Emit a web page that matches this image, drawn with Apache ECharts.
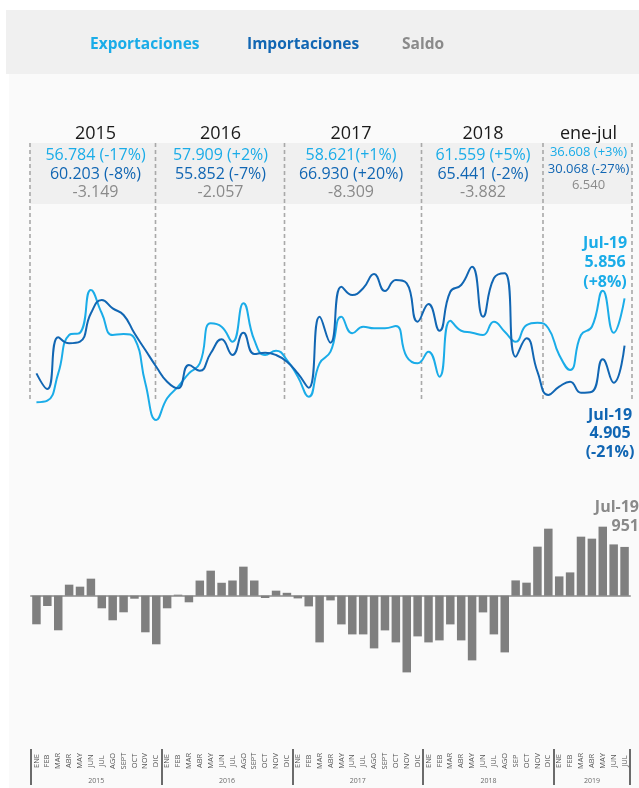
<!DOCTYPE html>
<html><head><meta charset="utf-8">
<script src="https://cdn.jsdelivr.net/npm/echarts@6/dist/echarts.min.js"></script>
<style>html,body{margin:0;padding:0;background:#fff}#c{width:639px;height:788px}</style>
</head><body><div id="c"></div>
<script>
// ---- data ----
const years = ['2015', '2016', '2017', '2018', '2019'];
const yearMonthCounts = [12, 12, 12, 12, 7];
const monthLabels = [
  'ENE','FEB','MAR','ABR','MAY','JUN','JUL','AGO','SEPT','OCT','NOV','DIC',
  'ENE','FEB','MAR','ABR','MAY','JUN','JUL','AGO','SEPT','OCT','NOV','DIC',
  'ENE','FEB','MAR','ABR','MAY','JUN','JUL','AGO','SEPT','OCT','NOV','DIC',
  'ENE','FEB','MAR','ABR','MAY','JUN','JUL','AGO','SEP','OCT','NOV','DIC',
  'ENE','FEB','MAR','ABR','MAY','JUN','JUL'
];
const exportsVals = [
  3770,3802,4351,5120,5166,6022,5555,5120,5140,5054,4151,3415,
  3850,4083,4351,4552,5354,5286,4985,5756,5020,4719,4805,4618,
  4283,3882,4552,4785,5487,5154,5286,5254,5254,5300,4684,4552,
  4785,4283,5407,5206,5166,5120,5387,5186,4985,5320,5367,5254,
  4719,4418,5120,5286,6008,5166,5856
];
const importsVals = [
  4351,4037,5074,4953,4985,5555,5822,5655,5521,5154,4819,4484,
  4183,4051,4518,4404,4753,5034,4719,5166,4739,4765,4719,4584,
  4351,4063,5487,4965,6089,5922,6057,6343,6002,6223,6157,5387,
  5742,5206,5988,6123,6490,5487,6257,6358,4684,5054,4384,3916,
  4083,4183,3962,3982,4632,4163,4905
];
const saldoVals = [
  -558,-201,-675,215,176,332,-246,-480,-324,-59,-714,-948,
  -246,20,-129,295,488,252,296,566,296,-45,98,56,
  -53,-209,-911,-92,-560,-755,-755,-1028,-677,-911,-1496,-794,
  -911,-872,-560,-872,-1262,-326,-755,-1106,298,254,956,1307,
  376,454,1151,1112,1346,1000,951
];
const seriesNames = ['Exportaciones', 'Importaciones', 'Saldo'];
const headerYears = ['2015', '2016', '2017', '2018', 'ene-jul'];
const headerExports = ['56.784 (-17%)', '57.909 (+2%)', '58.621(+1%)', '61.559 (+5%)', '36.608 (+3%)'];
const headerImports = ['60.203 (-8%)', '55.852 (-7%)', '66.930 (+20%)', '65.441 (-2%)', '30.068 (-27%)'];
const headerSaldo = ['-3.149', '-2.057', '-8.309', '-3.882', '6.540'];
const lastMonthLabel = 'Jul-19';
const exportChange = '(+8%)';
const importChange = '(-21%)';

// ---- style constants ----
const C_EXP = '#1aace8', C_IMP = '#1166b3', C_SAL = '#8a8a8a', C_BAR = '#7f7f7f';
const FONT = 'Open Sans';

const cats = monthLabels.map((m, i) => i + '|' + m);
const yearStarts = [];
const yearMids = [];
let acc = 0;
yearMonthCounts.forEach(n => { yearStarts.push(acc); yearMids.push(acc + n / 2); acc += n; });
const fmt = v => String(v).replace(/\B(?=(\d{3})+(?!\d))/g, '.');

function txt(x, y, s, color, size, weight, align) {
  return { type: 'text', x: x, y: y, z: 10,
    style: { text: s, fill: color, fontSize: size, fontWeight: weight || 'normal', fontFamily: FONT,
             align: align || 'center', verticalAlign: 'middle' } };
}

const g = [];
g.push({ type: 'rect', z: -10, shape: { x: 6, y: 10, width: 633, height: 64 }, style: { fill: '#f0f0f0' } });
g.push({ type: 'rect', z: -10, shape: { x: 9, y: 74, width: 630, height: 714 }, style: { fill: '#fafafa' } });
g.push({ type: 'rect', z: -9, shape: { x: 30, y: 143, width: 602, height: 61 }, style: { fill: '#f0f0f0' } });
[30, 155.5, 284.5, 421.5, 543, 632].forEach(x => {
  g.push({ type: 'line', z: -5, shape: { x1: x, y1: 143, x2: x, y2: 401 },
    style: { stroke: '#a9a9a9', lineWidth: 1.6, lineDash: [4, 3] } });
});
const colX = [95.5, 220.5, 351, 483, 588.5];
headerYears.forEach((y, i) => {
  g.push(txt(colX[i], 134, y, '#1a1a1a', 18));
  if (i < 4) {
    g.push(txt(colX[i], 155, headerExports[i], C_EXP, 16));
    g.push(txt(colX[i], 174, headerImports[i], C_IMP, 16));
    g.push(txt(colX[i], 192.5, headerSaldo[i], C_SAL, 16));
  } else {
    g.push(txt(colX[i], 152.5, headerExports[i], C_EXP, 13));
    g.push(txt(colX[i], 169, headerImports[i], C_IMP, 13));
    g.push(txt(colX[i], 185.5, headerSaldo[i], C_SAL, 13));
  }
});
const n = exportsVals.length - 1;
[lastMonthLabel, fmt(exportsVals[n]), exportChange].forEach((s, i) => g.push(txt(605, 243 + i * 19.5, s, C_EXP, 16, 'bold')));
[lastMonthLabel, fmt(importsVals[n]), importChange].forEach((s, i) => g.push(txt(610, 415 + i * 18.5, s, C_IMP, 16, 'bold')));
[lastMonthLabel, fmt(saldoVals[n])].forEach((s, i) => g.push(txt(639, 507 + i * 19, s, C_SAL, 16, 'bold', 'right')));

const legendColors = [C_EXP, C_IMP, C_SAL];
const legendLeft = [79, 236, 392];

const chart = echarts.init(document.getElementById('c'), null, { width: 639, height: 788, renderer: 'canvas' });
chart.setOption({
  backgroundColor: '#ffffff',
  animation: false,
  textStyle: { fontFamily: FONT },
  legend: seriesNames.map((nm, i) => ({
    left: legendLeft[i], top: 32, itemWidth: 0, itemHeight: 0, selectedMode: false,
    itemStyle: { opacity: 0 }, lineStyle: { opacity: 0 },
    textStyle: { fontSize: 15.5, fontWeight: 'bold', fontFamily: FONT, color: legendColors[i] },
    data: [nm]
  })),
  grid: [
    { left: 31, right: 9, top: 191.4, height: 249.3 },
    { left: 31, right: 9, top: 477.75, height: 241 },
    { left: 31, right: 9, top: 749, height: 36 }
  ],
  xAxis: [
    { gridIndex: 0, type: 'category', data: cats, boundaryGap: true, show: false },
    { gridIndex: 1, type: 'category', data: cats, boundaryGap: true,
      axisLine: { onZero: true, lineStyle: { color: '#a6a6a6', width: 2 } },
      axisTick: { show: false }, axisLabel: { show: false }, splitLine: { show: false } },
    { gridIndex: 2, type: 'category', data: cats, boundaryGap: true, position: 'bottom',
      axisLine: { show: false },
      axisTick: { show: true, inside: true, length: 36, interval: (i) => yearStarts.indexOf(i) >= 0,
                  lineStyle: { color: '#6b6b6b', width: 2 } },
      axisLabel: { inside: true, interval: 0, rotate: 90, margin: 24, fontSize: 7.5, color: '#555',
                   fontFamily: FONT, align: 'center', verticalAlign: 'middle',
                   formatter: v => v.split('|')[1] } },
    { gridIndex: 2, type: 'value', min: 0, max: acc, show: false }
  ],
  yAxis: [
    { gridIndex: 0, type: 'value', min: 3000, max: 8000, show: false },
    { gridIndex: 1, type: 'value', min: -2400, max: 2300, show: false },
    { gridIndex: 2, type: 'value', min: 0, max: 1, show: false }
  ],
  series: [
    { name: seriesNames[0], type: 'line', xAxisIndex: 0, yAxisIndex: 0, data: exportsVals,
      smooth: 0.5, showSymbol: false, z: 3,
      lineStyle: { color: C_EXP, width: 2 }, itemStyle: { color: C_EXP } },
    { name: seriesNames[1], type: 'line', xAxisIndex: 0, yAxisIndex: 0, data: importsVals,
      smooth: 0.5, showSymbol: false, z: 4,
      lineStyle: { color: C_IMP, width: 2 }, itemStyle: { color: C_IMP } },
    { name: seriesNames[2], type: 'bar', xAxisIndex: 1, yAxisIndex: 1, data: saldoVals,
      barCategoryGap: '22%', itemStyle: { color: C_BAR } },
    { type: 'scatter', xAxisIndex: 3, yAxisIndex: 2, silent: true, symbolSize: 1,
      itemStyle: { color: 'rgba(0,0,0,0)' },
      data: yearMids.map((m, i) => ({ value: [m, 0.11], name: years[i] })),
      label: { show: true, position: 'inside', formatter: p => p.name, fontSize: 7, color: '#444', fontFamily: FONT } }
  ],
  graphic: { elements: g }
});
</script>
</body></html>
